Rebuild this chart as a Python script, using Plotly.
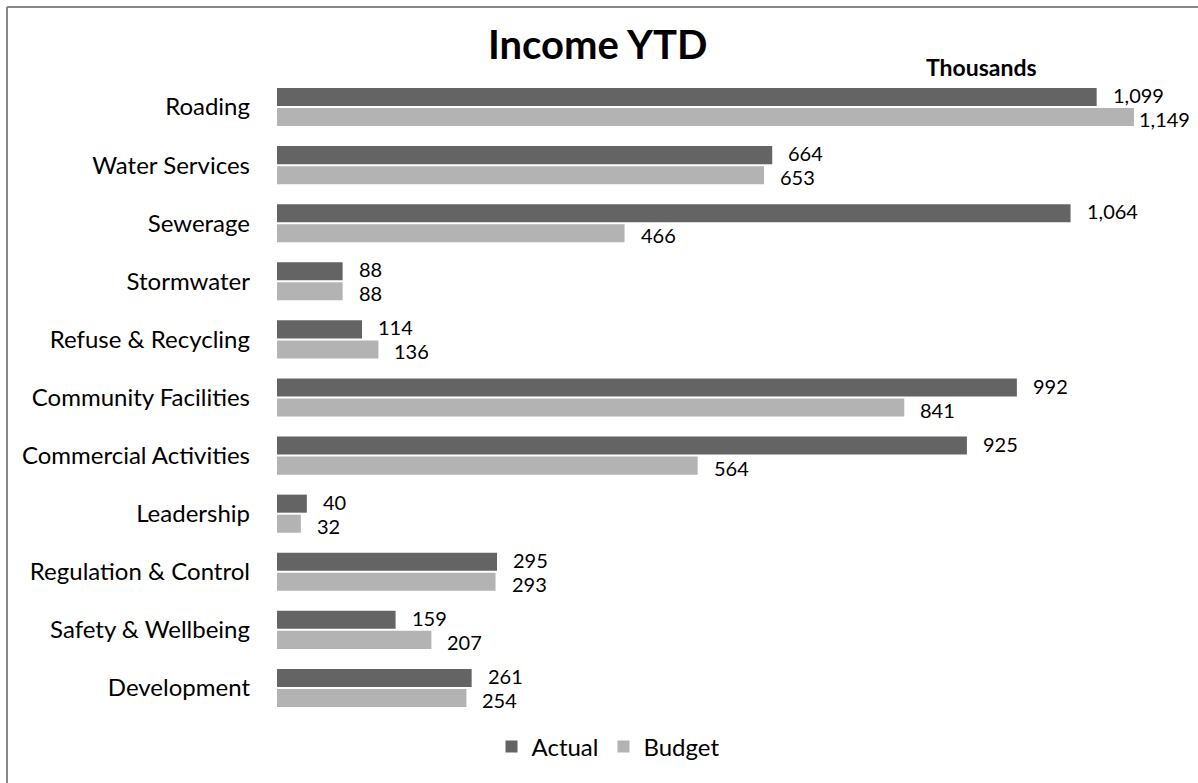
import plotly.graph_objects as go

categories = ["Roading", "Water Services", "Sewerage", "Stormwater", "Refuse & Recycling",
              "Community Facilities", "Commercial Activities", "Leadership",
              "Regulation & Control", "Safety & Wellbeing", "Development"]
actual = [1099, 664, 1064, 88, 114, 992, 925, 40, 295, 159, 261]
budget = [1149, 653, 466, 88, 136, 841, 564, 32, 293, 207, 254]

W_FIG, H_FIG = 1198, 783
ML, MR, MT, MB = 277, 26, 78, 66
PW = W_FIG - ML - MR
PH = H_FIG - MT - MB
XMAX = 1200
FONT = "Lato"

def px_to_paper_x(px):
    return (px - ML) / PW

def px_to_paper_y(py):
    return 1 - (py - MT) / PH

fig = go.Figure()
fig.add_trace(go.Bar(name="Actual", y=categories, x=actual, orientation="h",
                     marker=dict(color="#646464", line=dict(width=0))))
fig.add_trace(go.Bar(name="Budget", y=categories, x=budget, orientation="h",
                     marker=dict(color="#b3b3b3", line=dict(width=0))))

annotations = []
for series, shift in ((actual, 12), (budget, -12)):
    for cat, v in zip(categories, series):
        txt = f"{v:,}"
        end_px = ML + v / XMAX * PW + 15 + 11 * len(txt)
        common = dict(text=txt, showarrow=False, yshift=shift, height=22, valign="middle",
                      font=dict(family=FONT, size=20, color="#000"))
        if end_px > W_FIG - 8:
            annotations.append(dict(x=px_to_paper_x(W_FIG - 6), xref="paper", y=cat, yref="y",
                                    xanchor="right", **common))
        else:
            annotations.append(dict(x=v, y=cat, xref="x", yref="y",
                                    xanchor="left", xshift=14, **common))

annotations.append(dict(x=px_to_paper_x(597), y=px_to_paper_y(44), xref="paper", yref="paper",
                        text="<b>Income YTD</b>", showarrow=False, xanchor="center", yanchor="middle",
                        font=dict(family=FONT, size=40, color="#000")))
annotations.append(dict(x=px_to_paper_x(981), y=px_to_paper_y(67), xref="paper", yref="paper",
                        text="<b>Thousands</b>", showarrow=False, xanchor="center", yanchor="middle",
                        font=dict(family=FONT, size=23, color="#000")))

shapes = [
    dict(type="line", xref="paper", yref="paper", x0=px_to_paper_x(7), x1=px_to_paper_x(7),
         y0=px_to_paper_y(7), y1=px_to_paper_y(H_FIG + 10), line=dict(color="#888888", width=2)),
    dict(type="line", xref="paper", yref="paper", x0=px_to_paper_x(7), x1=px_to_paper_x(W_FIG + 10),
         y0=px_to_paper_y(7), y1=px_to_paper_y(7), line=dict(color="#888888", width=2)),
]

fig.update_layout(
    width=W_FIG, height=H_FIG,
    margin=dict(l=ML, r=MR, t=MT, b=MB, autoexpand=False),
    paper_bgcolor="white", plot_bgcolor="white",
    barmode="group", bargap=0.31, bargroupgap=0.1,
    font=dict(family=FONT, size=24, color="#000"),
    xaxis=dict(range=[0, XMAX], visible=False, showgrid=False, zeroline=False),
    yaxis=dict(categoryorder="array", categoryarray=categories, autorange="reversed",
               showgrid=False, zeroline=False, showline=False, ticks="", ticklabelstandoff=26,
               tickfont=dict(family=FONT, size=24, color="#000")),
    legend=dict(orientation="h", x=px_to_paper_x(608), xanchor="center",
                y=px_to_paper_y(747), yanchor="middle", font=dict(family=FONT, size=24),
                traceorder="normal", itemwidth=30),
    annotations=annotations, shapes=shapes,
)

fig.write_html("out.html")
